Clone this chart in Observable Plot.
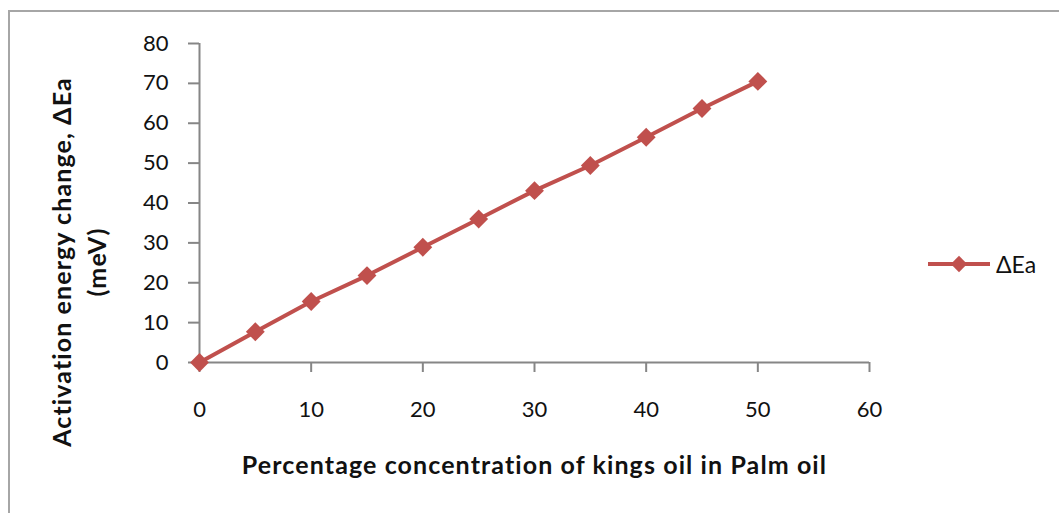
<!DOCTYPE html>
<html>
<head>
<meta charset="utf-8">
<script src="https://cdn.jsdelivr.net/npm/d3@7"></script>
<script src="https://cdn.jsdelivr.net/npm/@observablehq/plot@0.6"></script>
<style>
  html, body { margin: 0; padding: 0; background: #fff; }
  #wrap { position: relative; width: 1059px; height: 513px; overflow: hidden; font-family: Lato, "Open Sans", sans-serif; }
  #border { position: absolute; left: 8px; top: 10px; width: 1100px; height: 600px; border-left: 2px solid #a6a6a6; border-top: 2px solid #a6a6a6; box-sizing: border-box; pointer-events: none; }
  #legend { position: absolute; left: 928px; top: 249px; display: flex; align-items: center; font-size: 23px; color: #111; }
  #legend svg { display: block; margin-right: 4px; }
</style>
</head>
<body>
<div id="wrap">
  <div id="chart"></div>
  <div id="border"></div>
  <div id="legend"></div>
</div>
<script>
const concentration = [0, 5, 10, 15, 20, 25, 30, 35, 40, 45, 50];
const deltaEa = [0, 7.7, 15.3, 21.8, 28.9, 36.0, 43.1, 49.4, 56.5, 63.7, 70.5];
const xTicks = [0, 10, 20, 30, 40, 50, 60];
const yTicks = [0, 10, 20, 30, 40, 50, 60, 70, 80];
const seriesName = "ΔEa";
const xLabel = "Percentage concentration of kings oil in Palm oil";
const yLabelLines = ["Activation energy change, ΔEa", "(meV)"];

const color = "#C0504D";
const axisColor = "#868686";
const data = concentration.map((c, i) => ({x: c, y: deltaEa[i]}));

const chart = Plot.plot({
  width: 1059,
  height: 513,
  marginLeft: 199,
  marginRight: 190,
  marginTop: 43,
  marginBottom: 151,
  style: {fontFamily: "Lato, 'Open Sans', sans-serif", fontSize: "22px", color: "#111", background: "white"},
  x: {domain: [0, 60]},
  y: {domain: [0, 80]},
  marks: [
    Plot.axisX({ticks: xTicks, tickSize: 10, tickPadding: 29, stroke: axisColor, strokeWidth: 2, label: null, fill: "#111"}),
    Plot.axisY({ticks: yTicks, tickSize: 11, tickPadding: 20, stroke: axisColor, strokeWidth: 2, label: null, fill: "#111"}),
    Plot.ruleY([0], {stroke: axisColor, strokeWidth: 2}),
    Plot.ruleX([0], {stroke: axisColor, strokeWidth: 2}),
    Plot.line(data, {x: "x", y: "y", stroke: color, strokeWidth: 4}),
    Plot.dot(data, {x: "x", y: "y", symbol: "diamond2", r: 8.5, fill: color, stroke: null}),
    Plot.text([xLabel], {frameAnchor: "bottom", dy: 111, fontWeight: "bold", fontSize: 25, fill: "#111"}),
    Plot.text([yLabelLines[0]], {frameAnchor: "left", textAnchor: "middle", rotate: -90, dx: -137, dy: 59, fontWeight: "bold", fontSize: 25, fill: "#111"}),
    Plot.text([yLabelLines[1]], {frameAnchor: "left", textAnchor: "middle", rotate: -90, dx: -102, dy: 59, fontWeight: "bold", fontSize: 25, fill: "#111"})
  ]
});
d3.select(chart).selectAll("g[aria-label='text'] text").style("letter-spacing", "1.1px");
document.getElementById("chart").appendChild(chart);

// legend
const leg = document.getElementById("legend");
const ls = d3.create("svg").attr("width", 64).attr("height", 30);
ls.append("line").attr("x1", 0).attr("x2", 62).attr("y1", 15).attr("y2", 15).attr("stroke", color).attr("stroke-width", 4);
ls.append("path").attr("d", d3.symbol(d3.symbolDiamond2, 170)()).attr("transform", "translate(31,15)").attr("fill", color);
leg.appendChild(ls.node());
const lt = document.createElement("span");
lt.textContent = seriesName;
leg.appendChild(lt);
</script>
</body>
</html>
